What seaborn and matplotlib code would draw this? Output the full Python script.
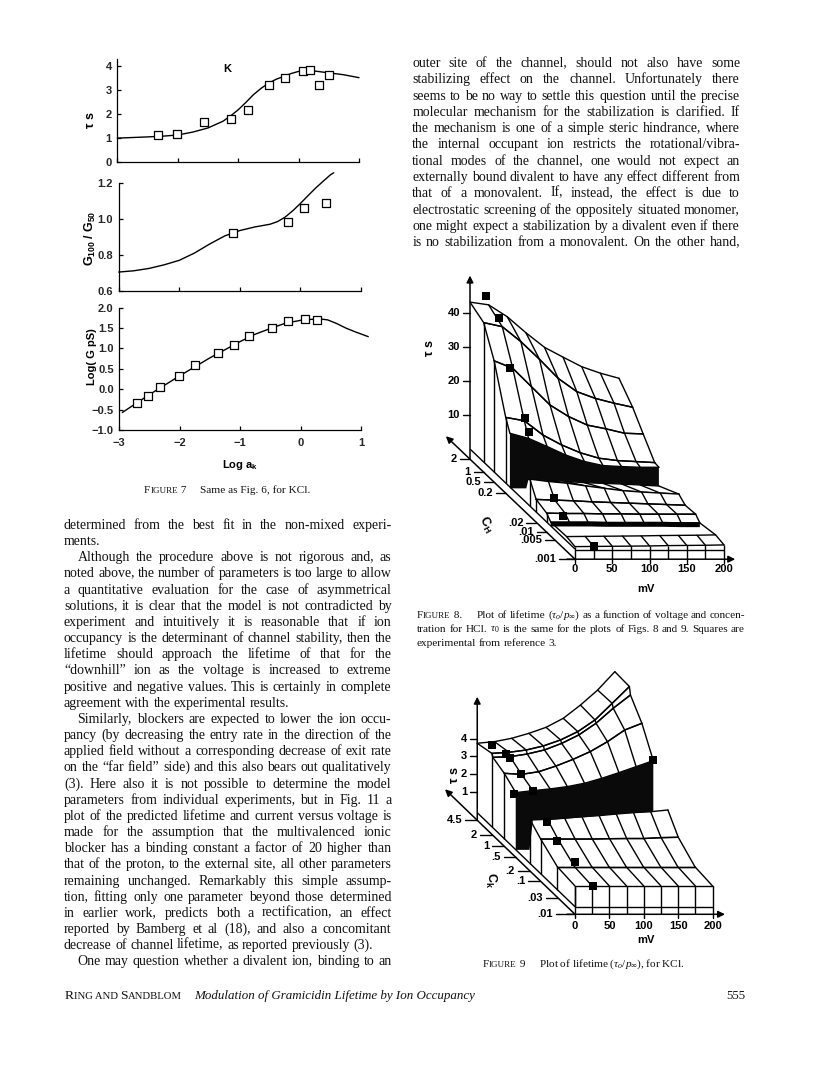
import numpy as np
import matplotlib
matplotlib.use("Agg")
import matplotlib.pyplot as plt
import seaborn as sns

sns.set_theme(style="ticks")
plt.rcParams["font.family"] = ["Liberation Serif", "DejaVu Sans"]
plt.rcParams["mathtext.fontset"] = "custom"
plt.rcParams["mathtext.rm"] = "Liberation Serif"
plt.rcParams["mathtext.it"] = "Liberation Serif:italic"
plt.rcParams["mathtext.sf"] = "Liberation Sans:bold"

W, H = 816, 1077
SANS = "Liberation Sans"

# Figure 7 data
tau_curve_x = [-3, -2.5, -2.25, -2, -1.75, -1.5, -1.25, -1.125, -1, -0.875, -0.75, -0.625, -0.5, -0.375, -0.25, -0.125, 0, 0.125, 0.25, 0.375, 0.5, 0.75, 1]
tau_curve_y = [1.0, 1.05, 1.08, 1.13, 1.25, 1.42, 1.70, 1.92, 2.17, 2.47, 2.79, 3.05, 3.27, 3.43, 3.55, 3.67, 3.76, 3.79, 3.78, 3.74, 3.70, 3.62, 3.5]
tau_pts_x = [-2.32, -2.02, -1.57, -1.12, -0.84, -0.49, -0.22, 0.07, 0.19, 0.33, 0.5]
tau_pts_y = [1.12, 1.19, 1.67, 1.78, 2.17, 3.21, 3.48, 3.77, 3.81, 3.21, 3.6]

ratio_curve_x = [-3, -2.75, -2.5, -2.25, -2, -1.75, -1.5, -1.25, -1, -0.75, -0.5, -0.375, -0.25, -0.125, 0, 0.125, 0.25, 0.375, 0.5, 0.55]
ratio_curve_y = [.705, .712, .725, .745, .77, .81, .86, .905, .935, .955, .97, .985, 1.01, 1.045, 1.085, 1.128, 1.17, 1.208, 1.245, 1.255]
ratio_pts_x = [-1.12, -0.2, 0.06, 0.42]
ratio_pts_y = [.921, .98, 1.06, 1.09]

logg_curve_x = [-2.95, -2.5, -2, -1.5, -1, -0.75, -0.5, -0.25, 0, 0.12, 0.25, 0.35, 0.45, 0.6, 0.75, 0.9, 1.12]
logg_curve_y = [-.57, -.13, .33, .77, 1.17, 1.35, 1.49, 1.62, 1.69, 1.71, 1.72, 1.72, 1.70, 1.61, 1.5, 1.41, 1.29]
logg_pts_x = [-2.71, -2.53, -2.32, -2.02, -1.74, -1.37, -1.11, -0.85, -0.48, -0.21, 0.08, 0.28]
logg_pts_y = [-.33, -.16, .05, .32, .6, .9, 1.08, 1.3, 1.51, 1.67, 1.72, 1.71]

# Figure 8 surface (HCl), tau per row, mV 0..200 in steps of 25
mv_grid = np.arange(0, 201, 25)
h_upper = [
    (100, [43.2, 42.4, 38.9, 34.2, 29.9, 27, 24.2, 22.3, 20.8]),
    (87, [41, 39.8, 35.4, 30.2, 24.6, 20.7, 18.7, 17.3, 16.1]),
    (77, [32.7, 30.5, 25.1, 19.7, 16.3, 13.8, 12.7, 11.4, 11.2]),
    (66, [19.3, 18.3, 14.1, 11.2, 8.9, 7.3, 6.6, 6.3, 6]),
    (62, [15.8, 14.3, 11.9, 9.4, 7.5, 6.3, 6, 5.8, 5.8]),
]
h_wall_low = [-0.4, 2.25, 2.06, 1.67, 1.27, 1.08, .88, .59, .29]
h_lower = [
    (43, [7.9, 7.2, 6.7, 5.9, 5.2, 4.5, 4.1, 3.8, 3.5]),
    (37, [3.7, 3.5, 3.3, 3, 2.8, 2.6, 2.4, 2.2, 2]),
    (27, [2.6, 2.5, 2.5, 2.4, 2.4, 2.3, 2.3, 2.3, 2.3]),
    (23, [1.1, 1.1, 1.1, 1.0, 1.0, 1.0, 1.0, .9, .9]),
]
h_step = [
    (8, [1.3, 1.35, 1.4, 1.45, 1.5, 1.6, 1.65, 1.7, 1.8]),
    (0, [.7, .75, .8, .85, .9, 1.0, 1.05, 1.1, 1.2]),
]
h_pts_mv = [21, 21, 21, 26, 26, 24, 21.5, 25.5]
h_pts_d = [100, 87, 77, 66, 62, 37, 27, 0]
h_pts_tau = [45, 42.5, 30.5, 19, 16.3, 4, 1.8, .9]
h_tau_ticks = [10, 20, 30, 40]
h_conc_labels = ["2", "1", "0.5", "0.2", ".02", ".01", ".005", ".001"]
h_conc_depth = [100, 87, 77, 66, 36.7, 27, 19, 0]

# Figure 9 surface (KCl)
k_upper = [
    (94, [3.74, 3.83, 4.02, 4.3, 4.64, 5.15, 5.9, 6.75, 7.79]),
    (80, [3.96, 4.02, 4.15, 4.38, 4.72, 5.19, 5.85, 6.79, 7.74]),
    (79, [3.79, 3.83, 3.98, 4.21, 4.58, 5.06, 5.72, 6.57, 7.32]),
    (68, [3.51, 3.45, 3.6, 3.92, 4.3, 4.74, 5.3, 5.96, 6.34]),
    (57, [3.04, 3.15, 3.25, 3.38, 3.57, 3.85, 4.17, 4.51, 4.85]),
]
k_wall_low = [-0.2, 1.49, 1.49, 1.58, 1.64, 1.75, 1.83, 1.9, 1.96]
k_lower = [
    (43, [2.28, 2.32, 2.38, 2.47, 2.53, 2.62, 2.7, 2.75, 2.85]),
    (33, [1.77, 1.77, 1.77, 1.77, 1.79, 1.8, 1.8, 1.85, 1.87]),
    (17, [1.11, 1.11, 1.11, 1.11, 1.11, 1.11, 1.11, 1.11, 1.11]),
    (0, [.98, .98, .98, .98, .98, .98, .98, .98, .98]),
]
k_pts_mv = [22, 20, 25, 25, -3, 25, 24, 24, 26, 25.7, 200]
k_pts_d = [94, 80, 79, 68, 57, 57, 43, 33, 17, 0, 57]
k_pts_tau = [3.62, 3.92, 3.77, 3.45, 2.94, 3.15, 2.19, 1.68, 1.38, .98, 4.89]
k_tau_ticks = [1, 2, 3, 4]
k_conc_labels = ["4.5", "2", "1", ".5", ".2", ".1", ".03", ".01"]
k_conc_depth = [94, 79.7, 68, 57, 43.3, 33.3, 16.7, 0]
mv_labels = [0, 50, 100, 150, 200]

left_lines = [
    "determined from the best fit in the non-mixed experi-",
    "ments.",
    "Although the procedure above is not rigorous and, as",
    "noted above, the number of parameters is too large to allow",
    "a quantitative evaluation for the case of asymmetrical",
    "solutions, it is clear that the model is not contradicted by",
    "experiment and intuitively it is reasonable that if ion",
    "occupancy is the determinant of channel stability, then the",
    "lifetime should approach the lifetime of that for the",
    "“downhill” ion as the voltage is increased to extreme",
    "positive and negative values. This is certainly in complete",
    "agreement with the experimental results.",
    "Similarly, blockers are expected to lower the ion occu-",
    "pancy (by decreasing the entry rate in the direction of the",
    "applied field without a corresponding decrease of exit rate",
    "on the “far field” side) and this also bears out qualitatively",
    "(3). Here also it is not possible to determine the model",
    "parameters from individual experiments, but in Fig. 11 a",
    "plot of the predicted lifetime and current versus voltage is",
    "made for the assumption that the multivalenced ionic",
    "blocker has a binding constant a factor of 20 higher than",
    "that of the proton, to the external site, all other parameters",
    "remaining unchanged. Remarkably this simple assump-",
    "tion, fitting only one parameter beyond those determined",
    "in earlier work, predicts both a rectification, an effect",
    "reported by Bamberg et al (18), and also a concomitant",
    "decrease of channel lifetime, as reported previously (3).",
    "One may question whether a divalent ion, binding to an",
]
left_indent = [2, 12, 27]
left_short = [1, 11, 26]

right_lines = [
    "outer site of the channel, should not also have some",
    "stabilizing effect on the channel. Unfortunately there",
    "seems to be no way to settle this question until the precise",
    "molecular mechanism for the stabilization is clarified. If",
    "the mechanism is one of a simple steric hindrance, where",
    "the internal occupant ion restricts the rotational/vibra-",
    "tional modes of the channel, one would not expect an",
    "externally bound divalent to have any effect different from",
    "that of a monovalent. If, instead, the effect is due to",
    "electrostatic screening of the oppositely situated monomer,",
    "one might expect a stabilization by a divalent even if there",
    "is no stabilization from a monovalent. On the other hand,",
]

fig = plt.figure(figsize=(W / 100, H / 100), dpi=100, facecolor="white")
page = fig.add_axes([0, 0, 1, 1])
page.set_axis_off()
page.set_xlim(0, W)
page.set_ylim(H, 0)
renderer = fig.canvas.get_renderer()


def word_width(s, size, style="normal"):
    t = page.text(0, 0, s, fontsize=size, style=style)
    w = t.get_window_extent(renderer).width
    t.remove()
    return w


def snap(y):
    # keeps the baseline of separate words on one pixel row
    return round(y) - 0.49


def put_line(line, x0, x1, y, size, justify=True):
    words = line.split(" ")
    widths = [word_width(w, size) for w in words]
    gap = size * 100 / 72 * 0.25
    if justify and len(words) > 1:
        gap = (x1 - x0 - sum(widths)) / (len(words) - 1)
    x = x0
    for w, ww in zip(words, widths):
        page.text(x, snap(y), w, fontsize=size, va="baseline", ha="left", color="#111111")
        x += ww + gap


def smallcaps(parts, x, y, big, small):
    for s, is_big in parts:
        size = big if is_big else small
        page.text(x, snap(y), s, fontsize=size, va="baseline", ha="left", color="#111111")
        x += word_width(s, size)
    return x


# body text
BODY = 10.0
for i, line in enumerate(left_lines):
    x0 = 77.5 if i in left_indent else 64
    put_line(line, x0, 391.5, 529 + i * 16.16, BODY, i not in left_short)
for i, line in enumerate(right_lines):
    put_line(line, 412.3, 740, 67 + i * 16.3, BODY)

# captions
CAP = 8.1
smallcaps([("F", True), ("IGURE", False), (" 7", True)], 144, 493, CAP, 6.5)
page.text(200, snap(493), "Same as Fig. 6, for KCl.", fontsize=CAP, color="#111111")
smallcaps([("F", True), ("IGURE", False), (" 8.", True)], 416.7, 618, CAP, 6.5)
put_line(r"Plot of lifetime ($\tau_o/p_\infty$) as a function of voltage and concen-", 476.7, 745, 618, CAP)
put_line(r"tration for HCl. $\tau_0$ is the same for the plots of Figs. 8 and 9. Squares are", 416.7, 745, 632, CAP)
put_line("experimental from reference 3.", 416.7, 745, 646, CAP, False)
smallcaps([("F", True), ("IGURE", False), (" 9", True)], 482.7, 967, CAP, 6.5)
page.text(539, snap(967), r"Plot of lifetime ($\tau_o/p_\infty$), for KCl.", fontsize=CAP, color="#111111")

# footer
smallcaps([("R", True), ("ING AND ", False), ("S", True), ("ANDBLOM", False)], 64.5, 999, 9.7, 7.7)
page.text(194, snap(999), "Modulation of Gramicidin Lifetime by Ion Occupancy", fontsize=9.35,
          style="italic", color="#111111")
page.text(745, snap(999), "555", fontsize=9.2, ha="right", color="#111111")


# Figure 7
def panel(x0, x1, ytop, ybot, ylim, yticks, ylabels, cx, cy, px, py):
    ax = fig.add_axes([x0 / W, 1 - ybot / H, (x1 - x0) / W, (ybot - ytop) / H])
    ax.patch.set_alpha(0)
    sns.lineplot(x=cx, y=cy, color="black", linewidth=1.0, ax=ax, clip_on=False, zorder=3, sort=False)
    sns.scatterplot(x=px, y=py, marker="s", s=26, facecolor="white", edgecolor="black",
                    linewidth=0.9, ax=ax, clip_on=False, zorder=4)
    ax.set_xlim(-3, 1)
    ax.set_ylim(*ylim)
    ax.set_xticks([-3, -2, -1, 0, 1])
    ax.set_yticks(yticks)
    ax.set_yticklabels(ylabels, fontfamily=SANS, fontweight="bold", fontsize=8)
    ax.tick_params(direction="in", length=2.6, width=0.9, color="black", pad=4)
    sns.despine(ax=ax)
    for s in ("left", "bottom"):
        ax.spines[s].set_linewidth(0.9)
        ax.spines[s].set_color("black")
    ax.set_xlabel("")
    ax.set_ylabel("")
    return ax


a1 = panel(117.3, 359, 59.3, 162.3, (0, 4.26), [0, 1, 2, 3, 4], ["0", "1", "2", "3", "4"],
           tau_curve_x, tau_curve_y, tau_pts_x, tau_pts_y)
a1.set_xticklabels([])
a2 = panel(118.7, 361, 182.7, 291, (.6, 1.2), [.6, .8, 1.0, 1.2], ["0.6", "0.8", "1.0", "1.2"],
           ratio_curve_x, ratio_curve_y, ratio_pts_x, ratio_pts_y)
a2.set_xticklabels([])
a3 = panel(119.3, 361, 307.7, 430, (-1, 2), [-1, -.5, 0, .5, 1, 1.5, 2],
           ["−1.0", "−0.5", "0.0", "0.5", "1.0", "1.5", "2.0"],
           logg_curve_x, logg_curve_y, logg_pts_x, logg_pts_y)
a3.set_xticklabels(["−3", "−2", "−1", "0", "1"], fontfamily=SANS, fontweight="bold", fontsize=8)
a3.tick_params(axis="x", pad=6)


def sans(x, y, s, rotation=0, size=8, ha="center"):
    page.text(x, y, s, fontfamily=SANS, fontweight="bold", fontsize=size, rotation=rotation,
              ha=ha, va="center", color="black")


sans(227, 69, "K")
sans(91, 120, "τ s", 90, 9)
sans(90, 238, r"$\mathsf{G_{100}\ /\ G_{50}}$", 90, 9)
sans(92, 357, "Log( G pS)", 90)
sans(240, 465, r"Log a$\mathsf{_k}$")


# 3D surfaces, oblique projection onto the page
def proj8(mv, d, tau):
    return 575 + .745 * np.asarray(mv, float) - 1.05 * np.asarray(d, float), 549 - np.asarray(d, float) - 3.4 * np.asarray(tau, float)


def proj9(mv, d, tau):
    return 575 + .688 * np.asarray(mv, float) - 1.04 * np.asarray(d, float), 903.33 - np.asarray(d, float) - 17.67 * np.asarray(tau, float)


LW = 1.0


def seg(proj, mv, d, tau, z=5, lw=LW):
    x, y = proj(mv, d, tau)
    page.plot(x, y, color="black", lw=lw, zorder=z, solid_capstyle="butt", solid_joinstyle="round")


def strip(proj, a, b, z, start=0):
    mv = mv_grid[start:]
    ta, tb = np.array(a[1], float)[start:], np.array(b[1], float)
    xa, ya = proj(mv, a[0], ta)
    xb, yb = proj(mv_grid, b[0], tb)
    page.fill(np.r_[xa, xb[::-1]], np.r_[ya, yb[::-1]], color="white", zorder=z, lw=0)
    page.plot(xa, ya, color="black", lw=LW, zorder=z + .1)
    page.plot(xb, yb, color="black", lw=LW, zorder=z + .1)
    for i in range(start, len(mv_grid)):
        page.plot([xa[i - start], xb[i]], [ya[i - start], yb[i]], color="black", lw=LW, zorder=z + .1)


def arrow(x0, y0, x1, y1):
    page.annotate("", xy=(x1, y1), xytext=(x0, y0), zorder=8,
                  arrowprops=dict(arrowstyle="-|>", color="black", lw=1.1, mutation_scale=10,
                                  shrinkA=0, shrinkB=0))


def axes3d(proj, tau_base, d_back, d_tip, tau_tip, mv_tip, tau_ticks, depth, labels, tick_len, label_y):
    xa, ya = proj(0, 0, tau_base)
    xt, yt = proj(0, d_tip, tau_base)
    arrow(xa, ya, xt, yt)
    xb, yb = proj(0, d_back, tau_base)
    xu, yu = proj(0, d_back, tau_tip)
    arrow(xb, yb, xu, yu)
    xr, yr = proj(mv_tip, 0, tau_base)
    arrow(xa - 8, ya, xr, yr)
    for t in tau_ticks:
        x, y = proj(0, d_back, t)
        page.plot([x - 7, x], [y, y], color="black", lw=LW, zorder=5)
        sans(x - 10, y, str(t), ha="right")
    for d, lab in zip(depth, labels):
        x, y = proj(0, d, tau_base)
        ln = tick_len * 1.6 if d == 0 else tick_len
        page.plot([x - ln, x], [y, y], color="black", lw=LW, zorder=5)
        sans(x - ln - 3, y, lab, ha="right")
    for m in mv_labels:
        x, y = proj(m, 0, tau_base)
        page.plot([x, x], [y, y + 4], color="black", lw=LW, zorder=5)
        sans(x, label_y, str(m))


def markers(proj, mv, d, tau):
    x, y = proj(mv, d, tau)
    sns.scatterplot(x=x, y=y, marker="s", s=30, color="black", linewidth=0, ax=page, zorder=9,
                    clip_on=False)


# Figure 8
BASE8 = -3
for a, b in zip(h_upper[:-1], h_upper[1:]):
    strip(proj8, a, b, 3)
seg(proj8, [0, 0], [100, 0], [0, 0])
strip(proj8, (62, h_wall_low), h_lower[0], 4, start=1)
for a, b in zip(h_lower[:-1], h_lower[1:]):
    strip(proj8, a, b, 4.2)
strip(proj8, h_step[0], h_step[1], 4.4)
for i in (0, -1):
    seg(proj8, [mv_grid[i], mv_grid[i]], [23, 8], [h_lower[-1][1][i], h_step[0][1][i]], z=4.6)
# black wall and black strip
wx, wy = proj8(mv_grid, 62, h_upper[-1][1])
bx, by = proj8(np.r_[0, 22, mv_grid[1:]], 62, np.r_[h_wall_low[0], h_wall_low[0], h_wall_low[1:]])
page.fill(np.r_[wx, bx[::-1]], np.r_[wy, by[::-1]], color="#0a0a0a", zorder=4.7, lw=0)
seg(proj8, mv_grid, 23, np.array(h_lower[-1][1]) - .5, z=4.8, lw=3.6)
# left walls and front face
for row in h_upper[1:4] + h_lower[:4]:
    seg(proj8, [0, 0], [row[0], row[0]], [row[1][0], 0], z=4.9)
seg(proj8, [0, 200], [0, 0], [-.3, -.3])
for m, t in zip(mv_grid, h_step[1][1]):
    seg(proj8, [m, m], [0, 0], [t, BASE8])
axes3d(proj8, BASE8, 100, 123, 51, 215, h_tau_ticks, h_conc_depth, h_conc_labels, 10, 569)
markers(proj8, h_pts_mv, h_pts_d, h_pts_tau)
sans(430, 348, "τ s", 90, 9)
sans(486, 525, r"$\mathsf{C_H}$", -60, 9)
sans(646, 589, "mV")

# Figure 9
BASE9 = -.62
for a, b in zip(k_upper[:-1], k_upper[1:]):
    strip(proj9, a, b, 3)
seg(proj9, [0, 0], [94, 0], [-.19, -.19])
for a, b in zip(k_lower[:-1], k_lower[1:]):
    strip(proj9, a, b, 4)
wx, wy = proj9(mv_grid, 57, k_upper[-1][1])
bx, by = proj9(np.r_[0, 20, mv_grid[1:]], 57, np.r_[k_wall_low[0], k_wall_low[0], k_wall_low[1:]])
page.fill(np.r_[wx, bx[::-1]], np.r_[wy, by[::-1]], color="#0a0a0a", zorder=4.7, lw=0)
for row in k_upper[1:2] + k_upper[3:4] + k_lower[:4]:
    seg(proj9, [0, 0], [row[0], row[0]], [row[1][0], -.19], z=4.9)
seg(proj9, [0, 200], [0, 0], [-.19, -.19])
for m, t in zip(mv_grid, k_lower[-1][1]):
    seg(proj9, [m, m], [0, 0], [t, BASE9])
axes3d(proj9, BASE9, 94, 125, 6.37, 218, k_tau_ticks, k_conc_depth, k_conc_labels, 12, 926)
markers(proj9, k_pts_mv, k_pts_d, k_pts_tau)
sans(455, 775, "τ s", 90, 9)
sans(491, 880, r"$\mathsf{C_k}$", -90, 9)
sans(646, 940, "mV")

page.set_xlim(0, W)
page.set_ylim(H, 0)
page.set_xlabel("")
page.set_ylabel("")
fig.savefig("out.png", dpi=100, facecolor="white")
